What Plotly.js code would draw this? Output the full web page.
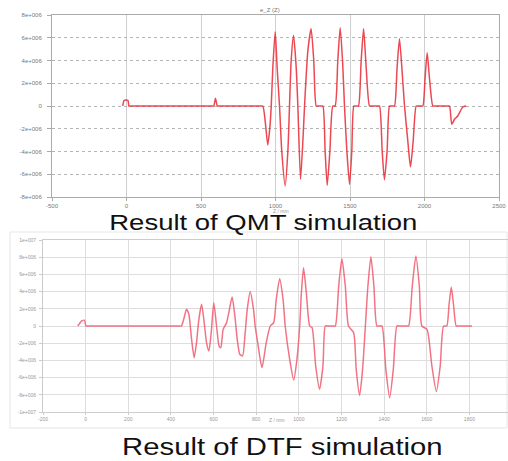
<!DOCTYPE html>
<html>
<head>
<meta charset="utf-8">
<script src="https://cdn.plot.ly/plotly-3.0.1.min.js"></script>
<style>html,body{margin:0;padding:0;background:#fff;}#chart{width:508px;height:461px;}</style>
</head>
<body>
<div id="chart"></div>
<script>
// ---- QMT simulation (top) ----
var qmtZ = [-25,-18,-12,5,11,16,30,
  570,585,592,597,603,610,625,
  900,915,933,948,962,971,982,998,1011,1027,1042,1065,1083,1094,1105,1121,1139,1150,1168,1186,1195,
  1217,1239,1257,1273,1285,1306,1318,1333,1347,1365,1385,1400,1418,1434,1450,1463,1479,1497,1512,1526,1538,1546,1557,
  1575,1591,1606,1631,1643,1686,1698,1716,1731,1749,1765,1775,1789,1799,1816,1832,1848,1866,1888,1906,1924,1944,1955,1978,1989,
  2004,2018,2033,2056,2068,2156,2168,2183,2201,2223,2257,2280];
var qmtE = [0,0.45e6,0.5e6,0.5e6,0.45e6,0,0,
  0,0,0.35e6,0.68e6,0.35e6,0,0,
  0,0,-1.61e6,-3.43e6,-1.9e6,-0.1e6,3.37e6,6.53e6,3.37e6,0,-3.96e6,-7.03e6,-3.96e6,0,3.96e6,6.21e6,3.37e6,0,-6.45e6,-2.49e6,0,
  4.83e6,6.8e6,3.96e6,0,0,0,0,-3.96e6,-6.97e6,-3.96e6,0,0,3.96e6,6.89e6,3.96e6,0,-3.96e6,-6.89e6,-3.96e6,0,0,0,0,
  3.96e6,6.8e6,3.96e6,0,0,0,0,-3.96e6,-6.5e6,-3.96e6,0,0,0,0,3.37e6,5.92e6,3.37e6,0,-3.08e6,-5.36e6,-3.08e6,0,0,0,0,
  2.49e6,4.69e6,2.49e6,0,0,0,0,-1.61e6,-1.17e6,-0.88e6,-0.09e6,0];
var qmtXTicks = [-500,0,500,1000,1500,2000,2500];
var qmtYTicks = [8e6,6e6,4e6,2e6,0,-2e6,-4e6,-6e6,-8e6];
var qmtYLabels = ['8e+006','6e+006','4e+006','2e+006','0','-2e+006','-4e+006','-6e+006','-8e+006'];

// ---- DTF simulation (bottom) ----
var dtfZ = [-37,-28,-20,-5,1,12,
  438,449,460,473,484,497,509,520,531,544,556,567,578,589,601,614,626,634,645,661,673,687,700,711,723,736,747,758,772,788,795,
  807,827,847,866,882,894,910,926,936,957,976,991,1004,1012,1022,1035,1051,1062,1079,1097,1113,1124,1135,1160,1171,
  1187,1202,1218,1233,1257,1269,1285,1299,1312,1324,1338,1352,1366,1378,1390,1408,1426,1443,1460,1471,1504,1515,
  1532,1549,1565,1577,1601,1624,1645,1663,1679,1694,1704,1715,1726,1738,1750,1812];
var dtfE = [0,0.31e6,0.58e6,0.66e6,0,0,
  0,0,0.78e6,1.94e6,1.36e6,-1.55e6,-3.68e6,-1.94e6,0.78e6,2.52e6,0.39e6,-1.94e6,-2.91e6,-0.78e6,2.71e6,0,-2.33e6,-2.52e6,-0.39e6,0.39e6,1.74e6,3.37e6,1.16e6,-1.55e6,-3.29e6,-3.49e6,-1.16e6,1.94e6,3.99e6,1.8e6,0,
  -1.94e6,-4.84e6,-1.94e6,0,0.39e6,3.1e6,5.5e6,3.1e6,0,-3.88e6,-6.28e6,-3.88e6,0,3.88e6,6.78e6,3.88e6,0,-0.2e6,-4.65e6,-7.36e6,-4.65e6,0,0,0,0,
  4.65e6,7.83e6,4.65e6,0,-0.78e6,-5.04e6,-8.06e6,-5.04e6,0,4.65e6,8.06e6,4.65e6,0,0,0,-5.04e6,-8.33e6,-5.04e6,0,0,0,0,
  4.65e6,8.14e6,4.65e6,0,-0.39e6,-4.65e6,-7.63e6,-4.65e6,0,0,2.33e6,4.53e6,2.33e6,0,0,0];
var dtfXTicks = [-200,0,200,400,600,800,1000,1200,1400,1600,1800,2000];
var dtfYTicks = [1e7,8e6,6e6,4e6,2e6,0,-2e6,-4e6,-6e6,-8e6,-1e7];
var dtfYLabels = ['1e+007','8e+006','6e+006','4e+006','2e+006','0','-2e+006','-4e+006','-6e+006','-8e+006','-1e+007'];

var captionTop = 'Result of QMT simulation';
var captionBottom = 'Result of DTF simulation';

var W = 508, H = 461;
function px(x){return x/W;}
function py(y){return 1 - y/H;}

var traces = [
  {x: qmtZ, y: qmtE, xaxis:'x', yaxis:'y', mode:'lines',
   line:{color:'rgba(232,40,50,0.85)', width:1.5, shape:'spline', smoothing:0.6}, hoverinfo:'skip'},
  {x: dtfZ, y: dtfE, xaxis:'x2', yaxis:'y2', mode:'lines',
   line:{color:'rgba(240,90,110,0.85)', width:1.5, shape:'spline', smoothing:0.6}, hoverinfo:'skip'}
];

var FF = 'Liberation Sans, Arial, sans-serif';
var tickFont = {family:FF, size:6, color:'#777'};
var tickFont2 = {family:FF, size:5, color:'#999'};

var layout = {
  width: W, height: H,
  margin:{l:0,r:0,t:0,b:0},
  paper_bgcolor:'#fff', plot_bgcolor:'#fff',
  showlegend:false,
  xaxis:{domain:[px(52), px(499)], range:[-500,2500], anchor:'y',
    tickvals:qmtXTicks, ticktext:qmtXTicks.map(String), tickfont:tickFont,
    showgrid:true, gridcolor:'#cfcfcf', gridwidth:1, zeroline:false,
    showline:true, mirror:true, linecolor:'#aaa', linewidth:1,
    ticks:'outside', ticklen:3, tickcolor:'#aaa'},
  yaxis:{domain:[py(197), py(15)], range:[-8e6,8e6], anchor:'x',
    tickvals:qmtYTicks, ticktext:qmtYLabels, tickfont:tickFont,
    showgrid:true, gridcolor:'#b5b5b5', griddash:'dot', gridwidth:1, zeroline:false,
    showline:true, mirror:true, linecolor:'#aaa', linewidth:1,
    ticks:'outside', ticklen:4, tickcolor:'#aaa', ticklabelstandoff:4},
  xaxis2:{domain:[px(43), 1], range:[-200,1981], anchor:'y2',
    tickvals:dtfXTicks, ticktext:dtfXTicks.map(String), tickfont:tickFont2,
    showgrid:true, gridcolor:'#ddd', gridwidth:1, zeroline:false,
    showline:true, mirror:true, linecolor:'#ccc', linewidth:1,
    ticks:'outside', ticklen:2, tickcolor:'#ccc'},
  yaxis2:{domain:[py(412), py(240)], range:[-1e7,1e7], anchor:'x2',
    tickvals:dtfYTicks, ticktext:dtfYLabels, tickfont:tickFont2,
    showgrid:true, gridcolor:'#ddd', gridwidth:1, zeroline:false,
    showline:true, mirror:false, linecolor:'#ccc', linewidth:1,
    ticks:'outside', ticklen:3, tickcolor:'#ccc', ticklabelstandoff:2},
  shapes:[
    {type:'rect', xref:'paper', yref:'paper', x0:px(10), x1:px(507), y0:py(428), y1:py(232),
     line:{color:'#e6e6e6', width:1}, fillcolor:'rgba(0,0,0,0)', layer:'below'}
  ],
  annotations:[
    {text:'e_Z (Z)', xref:'paper', yref:'paper', x:px(270), y:py(5), showarrow:false,
     font:{family:FF, size:6, color:'#777'}},
    {text:'Z / mm', xref:'paper', yref:'paper', x:px(281), y:py(210.5), showarrow:false, borderpad:0,
     font:{family:FF, size:5, color:'#999'}},
    {text:'Z / mm', xref:'paper', yref:'paper', x:px(277), y:py(425), showarrow:false,
     font:{family:FF, size:5, color:'#999'}},
    {text:captionTop, xref:'paper', yref:'paper', x:px(263), y:py(222), showarrow:false,
     font:{family:FF, size:22, color:'#111'}},
    {text:captionBottom, xref:'paper', yref:'paper', x:px(282), y:0, yanchor:'bottom', borderpad:0, showarrow:false,
     font:{family:FF, size:24, color:'#111'}}
  ]
};

Plotly.newPlot('chart', traces, layout, {staticPlot:true, displayModeBar:false}).then(function(gd){
  // the reference captions are horizontally stretched; widen the real text to match
  var scales = {}; scales[captionTop] = 1.25; scales[captionBottom] = 1.22;
  gd.querySelectorAll('text.annotation-text').forEach(function(el){
    var s = scales[el.textContent];
    if (!s) return;
    var bb = el.getBBox();
    var cx = bb.x + bb.width/2;
    el.setAttribute('transform', 'matrix(' + s + ',0,0,1,' + (cx*(1-s)) + ',0)');
  });
});
</script>
</body>
</html>
